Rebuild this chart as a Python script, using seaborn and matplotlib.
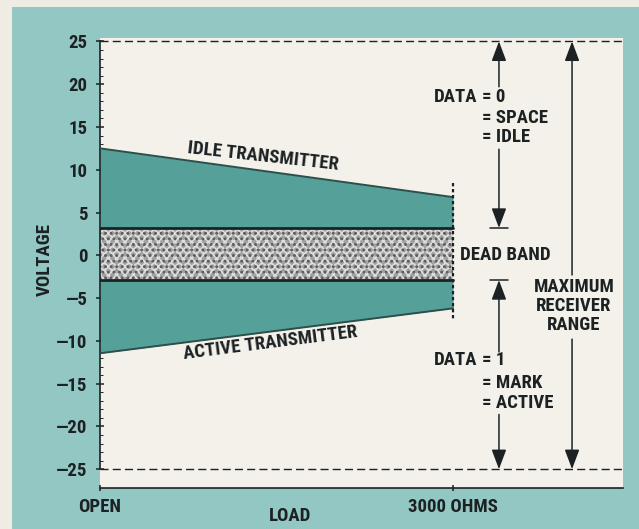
import numpy as np
import pandas as pd
import matplotlib
matplotlib.use("Agg")
import matplotlib.pyplot as plt
from matplotlib import font_manager
from matplotlib.patches import Rectangle
import seaborn as sns

# ---------------- data ----------------
load = [0, 3000]                       # ohms: OPEN ... 3000 OHMS
load_tick_labels = ["OPEN", "3000 OHMS"]
idle_top = [12.5, 6.8]                 # idle transmitter output (V)
dead_top = [3.2, 3.2]                  # dead band upper limit (V)
dead_bottom = [-2.9, -2.9]             # dead band lower limit (V)
active_bottom = [-11.45, -6.2]         # active transmitter output (V)
receiver_max = 25
receiver_min = -25
y_ticks = [25, 20, 15, 10, 5, 0, -5, -10, -15, -20, -25]
y_tick_labels = ["25", "20", "15", "10", "5", "0",
                 "—5", "—10", "—15", "—20", "—25"]

# ---------------- style ----------------
PAGE = "#efece4"
FRAME = "#93c7c4"
PANEL = "#f3f1ea"
BAND = "#56a09a"
BAND_EDGE = "#2c4f4c"
INK = "#1c2224"
W = "semibold"

sns.set_theme(style="white")
names = {f.name for f in font_manager.fontManager.ttflist}
family = "DejaVu Sans"
for cand in ["Roboto Condensed", "Liberation Sans Narrow", "Open Sans Condensed"]:
    if cand in names:
        family = cand
        break
plt.rcParams["font.family"] = [family, "DejaVu Sans"]
plt.rcParams["font.weight"] = W
plt.rcParams["axes.labelweight"] = W
FS = 13.5

df = pd.DataFrame({"load": load, "idle_top": idle_top, "dead_top": dead_top,
                   "dead_bottom": dead_bottom, "active_bottom": active_bottom})

fig = plt.figure(figsize=(6.39, 5.29), dpi=100)
fig.patch.set_facecolor(PAGE)
fig.patches.append(Rectangle((12 / 639, 0), 1 - 12 / 639, (529 - 7) / 529,
                             transform=fig.transFigure, facecolor=FRAME,
                             edgecolor="none", zorder=-5))
ax = fig.add_axes([100 / 639, 41 / 529, 523 / 639, 450 / 529])
ax.set_zorder(3)
ax.set_facecolor(PANEL)
ax.set_xlim(0, 4444)
ax.set_ylim(-27.2, 25.4)

# bands
ax.fill_between(df["load"], df["dead_top"], df["idle_top"], color=BAND, lw=0, zorder=2)
ax.fill_between(df["load"], df["active_bottom"], df["dead_bottom"], color=BAND, lw=0, zorder=2)
plt.rcParams["hatch.linewidth"] = 1.3
ax.fill_between(df["load"], df["dead_bottom"], df["dead_top"], facecolor="#a2a2a2",
                edgecolor="#dedede", hatch="xxxx", lw=0, zorder=2)
ax.fill_between(df["load"], df["dead_bottom"], df["dead_top"], facecolor="none",
                edgecolor="#5a5a5a", hatch="...", lw=0, zorder=2)

for col, lw in [("idle_top", 1.4), ("active_bottom", 1.4)]:
    sns.lineplot(data=df, x="load", y=col, ax=ax, color=BAND_EDGE, lw=lw, zorder=3)
for col in ["dead_top", "dead_bottom"]:
    sns.lineplot(data=df, x="load", y=col, ax=ax, color=INK, lw=2.0, zorder=3)

# 3000 ohm dotted marker
ax.plot([load[1], load[1]], [8.4, -7.4], color=INK, lw=1.6, ls=(0, (1.5, 1.2)), zorder=4)

# receiver range limits
for v in (receiver_max, receiver_min):
    ax.axhline(v, color=INK, lw=1.0, ls=(0, (5.8, 3.0)), zorder=3)

# arrows
arr = dict(arrowstyle="-|>,head_length=0.8,head_width=0.3", color=INK, lw=1.1,
           shrinkA=0, shrinkB=0, mutation_scale=15)
xa = 3390
xm = 4011
def arrow(x, y_from, y_to):
    ax.annotate("", xy=(x, y_to), xytext=(x, y_from), arrowprops=arr, zorder=5)

# DATA = 0
arrow(xa, 19.7, receiver_max)
arrow(xa, 12.4, dead_top[0])
ax.plot([xa - 80, xa + 80], [dead_top[0]] * 2, color=INK, lw=1.1, zorder=5)
# DATA = 1
arrow(xa, -11.3, dead_bottom[0])
arrow(xa, -18.6, receiver_min)
ax.plot([xa - 80, xa + 80], [dead_bottom[0]] * 2, color=INK, lw=1.1, zorder=5)
# maximum receiver range
arrow(xm, -2.3, receiver_max)
arrow(xm, -9.8, receiver_min)

# text
tk = dict(fontsize=FS, color=INK, zorder=6, fontweight=W)
xl = 3250   # column of the "=" signs
ax.text(xl - 40, 18.5, "DATA", ha="right", va="center", **tk)
ax.text(xl, 18.5, "= 0", ha="left", va="center", **tk)
ax.text(xl, 16.1, "= SPACE", ha="left", va="center", **tk)
ax.text(xl, 13.8, "= IDLE", ha="left", va="center", **tk)
ax.text(xl - 40, -12.2, "DATA", ha="right", va="center", **tk)
ax.text(xl, -12.2, "= 1", ha="left", va="center", **tk)
ax.text(xl, -14.9, "= MARK", ha="left", va="center", **tk)
ax.text(xl, -17.3, "= ACTIVE", ha="left", va="center", **tk)
ax.text(3059, 0.0, "DEAD BAND", ha="left", va="center", **tk)
ax.text(4028, -5.9, "MAXIMUM\nRECEIVER\nRANGE", ha="center", va="center",
        multialignment="center", linespacing=1.08, **tk)

def angle(ys):
    p0 = ax.transData.transform((load[0], ys[0]))
    p1 = ax.transData.transform((load[1], ys[1]))
    return np.degrees(np.arctan2(p1[1] - p0[1], p1[0] - p0[0]))

ax.text(1385, 11.6, "IDLE TRANSMITTER", rotation=angle(idle_top) + 1.5,
        rotation_mode="anchor", ha="center", va="center", **tk)
ax.text(1444, -10.2, "ACTIVE TRANSMITTER", rotation=angle(active_bottom),
        rotation_mode="anchor", ha="center", va="center", **tk)

# axes
for s in ("top", "right"):
    ax.spines[s].set_visible(False)
ax.spines["left"].set_bounds(receiver_min, receiver_max)
ax.spines["left"].set_color(INK)
ax.spines["bottom"].set_color(INK)
ax.spines["left"].set_linewidth(1.2)
ax.spines["bottom"].set_linewidth(1.2)
ax.set_yticks(y_ticks)
ax.set_yticklabels(y_tick_labels, fontweight=W)
ax.set_yticks(np.arange(-25, 26, 1), minor=True)
ax.tick_params(axis="y", which="major", direction="inout", length=6, width=1.1,
               color=INK, labelsize=FS, labelcolor=INK, pad=6, left=True)
ax.tick_params(axis="y", which="minor", direction="in", length=2, width=0.7,
               color=INK, left=True)
ax.set_xticks(load)
ax.set_xticklabels(load_tick_labels, fontweight=W)
ax.tick_params(axis="x", which="major", direction="inout", length=5, width=1.1,
               color=INK, labelsize=FS, labelcolor=INK, pad=5, bottom=True)
ax.set_xlabel("LOAD", fontsize=FS, color=INK, fontweight=W)
ax.xaxis.set_label_coords(0.363, -0.043)
ax.set_ylabel("VOLTAGE", fontsize=FS, color=INK, va="center", fontweight=W)
ax.yaxis.set_label_coords(-0.105, 0.507)
ax.grid(False)

fig.savefig("out.png", dpi=100, facecolor=fig.get_facecolor())
